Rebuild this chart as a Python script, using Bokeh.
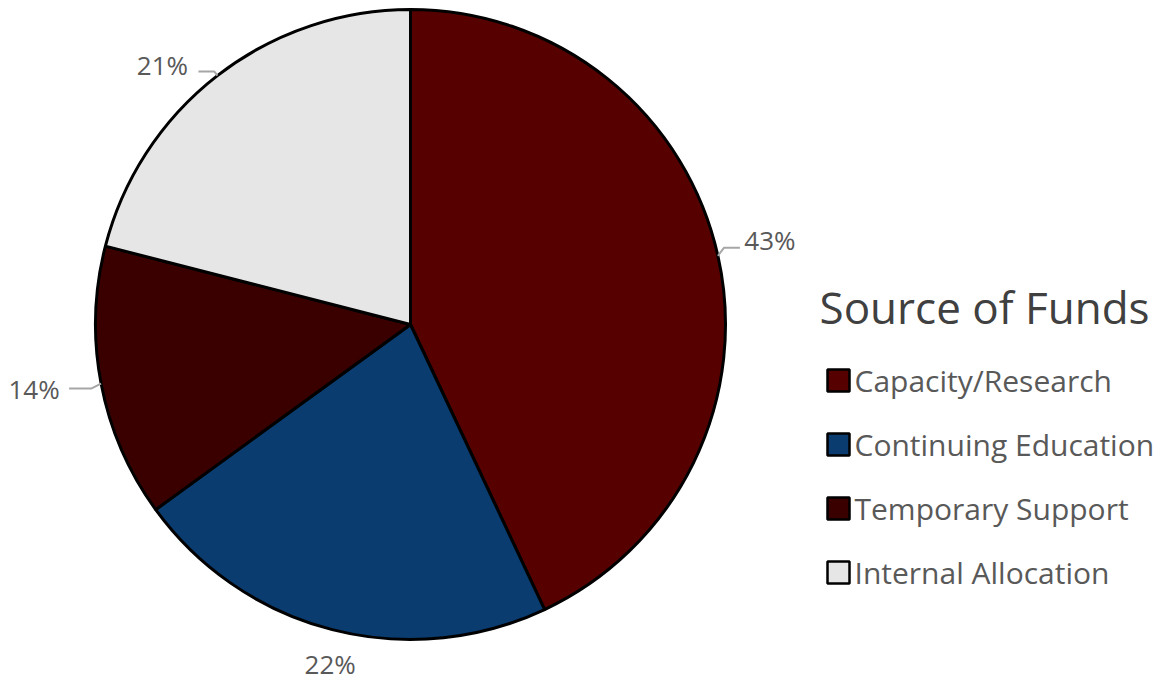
import math
from bokeh.plotting import figure
from bokeh.models import Range1d
from bokeh.core.properties import value
from bokeh.embed import file_html
from bokeh.resources import INLINE

# ---- data ----
categories = ["Capacity/Research", "Continuing Education", "Temporary Support", "Internal Allocation"]
shares = [43, 22, 14, 21]
pct_labels = ["43%", "22%", "14%", "21%"]
colors = ["#560000", "#0a3c6f", "#3a0000", "#e6e6e6"]
legend_title = "Source of Funds"

W, H = 1166, 681
FONT = "Open Sans"

p = figure(width=W, height=H, x_range=Range1d(0, W), y_range=Range1d(0, H),
           output_backend="svg", toolbar_location=None, min_border=0,
           outline_line_color=None, background_fill_color="white")
p.axis.visible = False
p.grid.visible = False

def sy(y):  # screen y -> data y
    return H - y

cx, cy, R = 410, sy(324), 315

total = sum(shares)
cum = 0.0
starts, ends, mids = [], [], []
for s in shares:
    a0 = math.pi / 2 - 2 * math.pi * cum / total
    cum += s
    a1 = math.pi / 2 - 2 * math.pi * cum / total
    starts.append(a1)
    ends.append(a0)
    mids.append((a0 + a1) / 2)

p.wedge(x=[cx] * len(shares), y=[cy] * len(shares), radius=R,
        start_angle=starts, end_angle=ends, direction="anticlock",
        fill_color=colors, line_color="black", line_width=3)

# ---- data labels ----
edge = [(cx + R * math.cos(m), cy + R * math.sin(m)) for m in mids]
# label offsets from slice edge point (layout)
lab_off = [(52, 16), (-2, -34), (-67, -5), (-55, 11)]
lx = [e[0] + o[0] for e, o in zip(edge, lab_off)]
ly = [e[1] + o[1] for e, o in zip(edge, lab_off)]
p.text(x=lx, y=ly, text=pct_labels, text_font=value(FONT), text_font_size="26px",
       text_line_height=1.0,
       text_color="#595959", text_align="center", text_baseline="middle")

# leader lines (relative to edge points)
leader_rel = [
    [(0, 0), (6, 8), (22, 8)],
    None,
    [(0, 0), (-10, -5), (-32, -5)],
    [(0, 0), (-3, 4), (-19, 4)],
]
xs, ys = [], []
for e, rel in zip(edge, leader_rel):
    if rel is None:
        continue
    xs.append([e[0] + r[0] for r in rel])
    ys.append([e[1] + r[1] for r in rel])
p.multi_line(xs=xs, ys=ys, line_color="#a6a6a6", line_width=2)

# ---- legend ----
p.text(x=[819], y=[sy(306)], text=[legend_title], text_font=value(FONT),
       text_font_size="44px", text_color="#404040", text_baseline="middle")
row_y = [sy(380 + 64 * i) for i in range(len(categories))]
p.rect(x=[838] * len(categories), y=row_y, width=22, height=22,
       fill_color=colors, line_color="black", line_width=2.5)
p.text(x=[854] * len(categories), y=row_y, text=categories, text_font=value(FONT),
       text_font_size="30px", text_color="#595959", text_baseline="middle")

open("out.html", "w").write(file_html(p, INLINE))
